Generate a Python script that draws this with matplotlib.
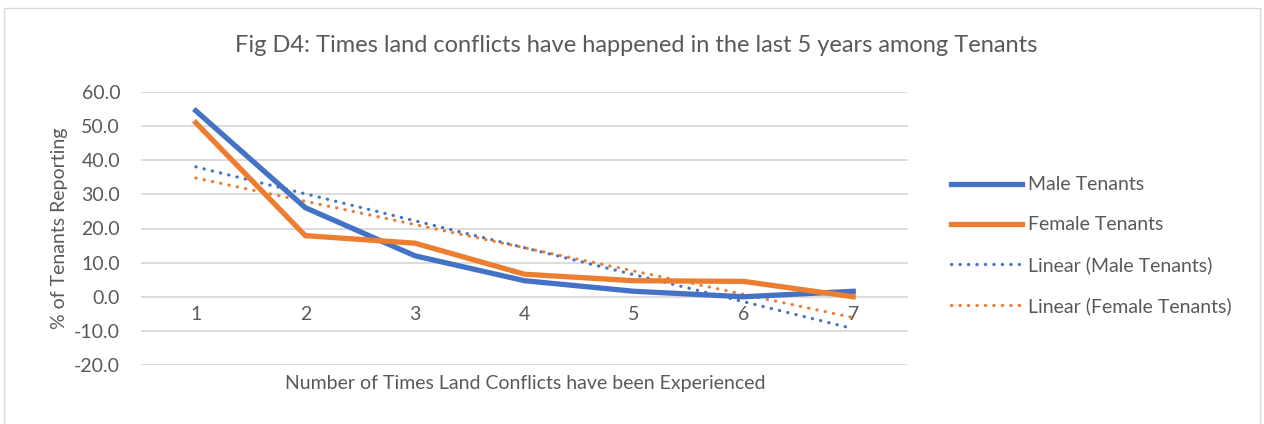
import numpy as np
import matplotlib
matplotlib.use("Agg")
import matplotlib.pyplot as plt
from matplotlib.patches import Rectangle

categories = ["1", "2", "3", "4", "5", "6", "7"]
male = [54.5, 26.1, 12.0, 4.7, 1.6, 0.0, 1.6]
female = [51.0, 17.9, 15.7, 6.6, 4.7, 4.5, 0.0]
yticks = [-20, -10, 0, 10, 20, 30, 40, 50, 60]

title = "Fig D4: Times land conflicts have happened in the last 5 years among Tenants"
xlabel = "Number of Times Land Conflicts have been Experienced"
ylabel = "% of Tenants Reporting"

BLUE = "#4472C4"
ORANGE = "#ED7D31"
TXT = "#595959"
GRID = "#D9D9D9"

plt.rcParams['font.family'] = ['Lato', 'DejaVu Sans']

W, H = 1264, 424
fig = plt.figure(figsize=(W / 100, H / 100), dpi=100)
fig.patch.set_facecolor("white")
fig.add_artist(Rectangle((4 / W, -0.05), 1 - 8 / W, 1 - 8 / H + 0.05, transform=fig.transFigure,
                         fill=False, edgecolor="#D9D9D9", lw=1))

ax = fig.add_axes([141 / W, 1 - 365 / H, (908 - 141) / W, (365 - 92) / H])
x = np.arange(1, len(categories) + 1)

ax.set_xlim(0.5, len(categories) + 0.5)
ax.set_ylim(-20, 60)
ax.set_yticks(yticks)
ax.set_yticklabels([f"{v:.1f}" for v in yticks], fontsize=14, color=TXT)
ax.tick_params(axis='y', length=0, pad=15)
ax.set_xticks([])
for s in ax.spines.values():
    s.set_visible(False)
ax.grid(axis='y', color=GRID, lw=1.3)
ax.set_axisbelow(True)

l1, = ax.plot(x, male, color=BLUE, lw=3.8, solid_joinstyle='miter', label="Male Tenants", zorder=3)
l2, = ax.plot(x, female, color=ORANGE, lw=3.8, solid_joinstyle='miter', label="Female Tenants", zorder=3)

pm = np.polyfit(x, male, 1)
pf = np.polyfit(x, female, 1)
dot = (0, (0.1, 2.55))
l3, = ax.plot(x, np.polyval(pm, x), color=BLUE, lw=2.3, ls=dot, dash_capstyle='round',
              label="Linear (Male Tenants)", zorder=2)
l4, = ax.plot(x, np.polyval(pf, x), color=ORANGE, lw=2.3, ls=dot, dash_capstyle='round',
              label="Linear (Female Tenants)", zorder=2)

for xi, lab in zip(x, categories):
    ax.annotate(lab, (xi, 0), xytext=(0, -7), textcoords='offset points',
                ha='center', va='top', fontsize=14, color=TXT)

fig.text(525 / W, 1 - 383 / H, xlabel, ha='center', va='center', fontsize=14, color=TXT)
fig.text(60 / W, 1 - 228 / H, ylabel, ha='center', va='center', rotation=90, fontsize=14, color=TXT)
fig.text(636 / W, 1 - 46 / H, title, ha='center', va='center', fontsize=17, color=TXT)

leg = fig.legend(handles=[l1, l2, l3, l4], loc='upper left', bbox_to_anchor=(933 / W, 1 - 159 / H),
                 frameon=False, fontsize=14, labelcolor=TXT, handlelength=3.7, handletextpad=0.3,
                 labelspacing=1.18)

fig.savefig("out.png", dpi=100, facecolor="white")
